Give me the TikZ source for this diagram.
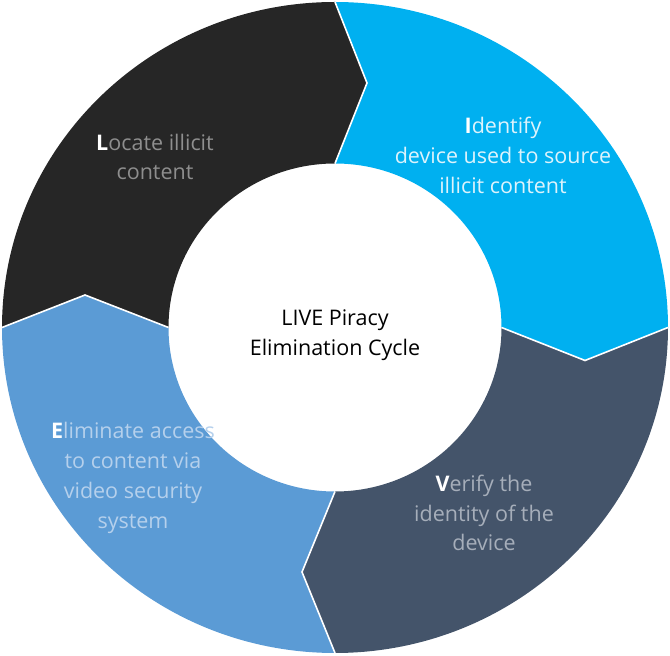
\documentclass[tikz,border=0pt]{standalone}
\usepackage{fontspec}
\setmainfont{Open Sans}
\definecolor{segblack}{HTML}{262626}
\definecolor{segcyan}{HTML}{00B0F0}
\definecolor{segslate}{HTML}{44546A}
\definecolor{segblue}{HTML}{5B9BD5}
\definecolor{txtblack}{HTML}{8E8E8E}
\definecolor{txtcyan}{HTML}{DDF3FC}
\definecolor{txtslate}{HTML}{A6AEBA}
\definecolor{txtblue}{HTML}{B5D0EC}
\newcommand{\initial}[1]{{\color{white}\bfseries #1}}
\begin{document}
\begin{tikzpicture}[x=1pt,y=1pt,
  seplabel/.style={align=center, font=\fontsize{21.5}{29.8}\selectfont, inner sep=0pt},
  sepline/.style={white, line width=1.6pt, line join=miter}]
\useasboundingbox (0,0) rectangle (670,656);
% key points
\coordinate (c) at (335,328.5);
\coordinate (bcO) at (335,654);   \coordinate (bcT) at (367,573);   \coordinate (bcI) at (335,492.5);
\coordinate (csO) at (668,328.5); \coordinate (csT) at (585,295.5); \coordinate (csI) at (501.5,328.5);
\coordinate (sbO) at (335,3);     \coordinate (sbT) at (302,84);    \coordinate (sbI) at (335,164.5);
\coordinate (bkO) at (2,328.5);   \coordinate (bkT) at (85,361);    \coordinate (bkI) at (168.5,328.5);
% segments
\fill[segcyan] (bcO) arc[start angle=90,end angle=0,x radius=333pt,y radius=325.5pt]
  -- (csT) -- (csI) arc[start angle=0,end angle=90,x radius=166.5pt,y radius=164pt]
  -- (bcT) -- cycle;
\fill[segslate] (csO) arc[start angle=0,end angle=-90,x radius=333pt,y radius=325.5pt]
  -- (sbT) -- (sbI) arc[start angle=-90,end angle=0,x radius=166.5pt,y radius=164pt]
  -- (csT) -- cycle;
\fill[segblue] (sbO) arc[start angle=-90,end angle=-180,x radius=333pt,y radius=325.5pt]
  -- (bkT) -- (bkI) arc[start angle=-180,end angle=-90,x radius=166.5pt,y radius=164pt]
  -- (sbT) -- cycle;
\fill[segblack] (bkO) arc[start angle=180,end angle=90,x radius=333pt,y radius=325.5pt]
  -- (bcT) -- (bcI) arc[start angle=90,end angle=180,x radius=166.5pt,y radius=164pt]
  -- (bkT) -- cycle;
% separators
\draw[sepline] (bcO) -- (bcT) -- (bcI);
\draw[sepline] (csO) -- (csT) -- (csI);
\draw[sepline] (sbO) -- (sbT) -- (sbI);
\draw[sepline] (bkO) -- (bkT) -- (bkI);
% labels
\node[seplabel, text=txtblack] (locate) at (155,499) {\initial{L}ocate illicit\\content};
\node[seplabel, text=txtcyan] (identify) at (503,500.5) {\initial{I}dentify\\device used to source\\illicit content};
\node[seplabel, text=txtslate] (verify) at (484,143) {\initial{V}erify the\\identity of the\\device};
\node[seplabel, text=txtblue] (eliminate) at (133,178) {\initial{E}liminate access\\to content via\\video security\\system};
\node[seplabel, text=black] (center) at (335,321) {LIVE Piracy\\Elimination Cycle};
\end{tikzpicture}
\end{document}
